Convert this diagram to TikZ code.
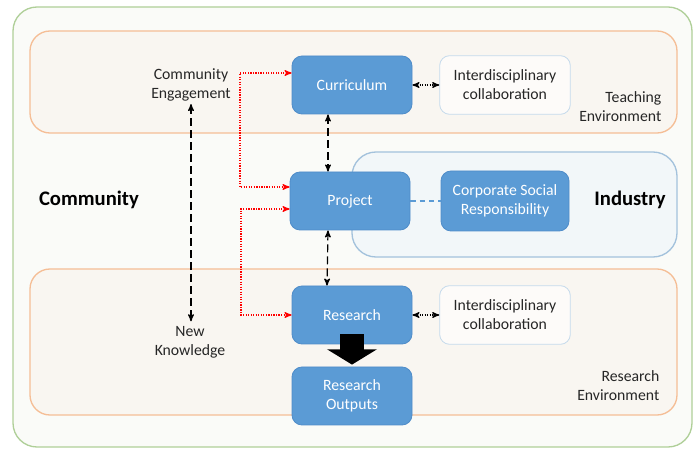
\documentclass[tikz,border=0pt]{standalone}
\usepackage{fontspec}
\setmainfont{Carlito}
\usepackage{tikz}
\usetikzlibrary{arrows,arrows.meta}

\definecolor{boxblue}{HTML}{5B9BD5}
\definecolor{boxedge}{HTML}{4F8CC9}
\definecolor{paleblue}{HTML}{C5DAEC}
\definecolor{indfill}{HTML}{F2F7F9}
\definecolor{indedge}{HTML}{A3C2DC}
\definecolor{envfill}{HTML}{F9F6F1}
\definecolor{envedge}{HTML}{F5BE96}
\definecolor{outfill}{HTML}{FAFBF8}
\definecolor{outedge}{HTML}{AFCF98}
\definecolor{txtgray}{HTML}{262626}

\begin{document}
\begin{tikzpicture}[x=0.75pt,y=-0.75pt,>=stealth',auto,
  font=\fontsize{11.8}{14.3}\selectfont]
  \tikzstyle{blk}=[draw=boxedge,fill=boxblue,rounded corners=7.5pt,
    minimum width=90pt,minimum height=43.5pt,text=white,align=center,
    line width=0.6pt]
  \tikzstyle{ibox}=[draw=paleblue,fill=white!60!envfill,rounded corners=7.5pt,
    minimum width=98pt,minimum height=44pt,text=txtgray,align=center,
    line width=0.6pt]
  \tikzstyle{lbl}=[text=txtgray,align=center]
  \tikzstyle{big}=[text=black,font=\fontsize{15.5}{18}\selectfont\bfseries]
  \tikzstyle{link}=[<->,black,line width=0.9pt,dash pattern=on 6pt off 3pt]
  \tikzstyle{dots}=[<->,black,line width=0.9pt,densely dotted]
  \tikzstyle{redline}=[<->,red,line width=0.9pt,densely dotted]

  \useasboundingbox (0,0) rectangle (694,449);

  % areas
  \draw[outedge,fill=outfill,line width=1pt,rounded corners=18pt]
    (13,7) rectangle (692,447);
  \draw[envedge,fill=envfill,line width=1pt,rounded corners=15pt]
    (30,31) rectangle (677,133);
  \draw[envedge,fill=envfill,line width=1pt,rounded corners=15pt]
    (30,269) rectangle (677,415);
  \draw[indedge,fill=indfill,line width=1pt,rounded corners=18pt]
    (352,152) rectangle (677,257);

  % boxes
  \node[blk] (cur) at (352,85) {Curriculum};
  \node[blk] (proj) at (350,201) {Project};
  \node[blk] (res) at (352,315) {Research};
  \node[blk] (outp) at (352,396) {Research\\Outputs};
  \node[blk,minimum width=96pt,minimum height=45pt] (csr) at (505,201)
    {Corporate Social\\Responsibility};
  \node[ibox] (ic1) at (505,85) {Interdisciplinary\\collaboration};
  \node[ibox] (ic2) at (505,315) {Interdisciplinary\\collaboration};

  % labels
  \node[lbl] (ce) at (191,85) {Community\\Engagement};
  \node[lbl] (nk) at (190,342) {New\\Knowledge};
  \node[big] (com) at (89,200) {Community};
  \node[big] (ind) at (630,200) {Industry};
  \node[lbl,align=right,anchor=east] (te) at (666,107) {Teaching\\Environment};
  \node[lbl,align=right,anchor=east] (re) at (664,386) {Research\\Environment};

  % corner points of the red lines
  \coordinate (r1) at (240,73);
  \coordinate (r2) at (240,187);
  \coordinate (r3) at (241,209);
  \coordinate (r4) at (241,315);

  \draw[link] (ce.south) ++(0,-2) coordinate (ce1) -- (ce1 |- nk.north);
  \draw[link] ([xshift=-18pt]cur.south) -- ([xshift=-16.5pt]proj.north);
  \draw[link] ([xshift=-16.5pt]proj.south) -- ([xshift=-18.75pt]res.north);
  \path
  (cur) edge[dots] (ic1)
  (res) edge[dots] (ic2)
  ;
  \draw[boxblue,line width=0.9pt,dash pattern=on 4pt off 3pt] (proj) -- (csr);

  \draw[redline] (r1 -| cur.west) -- (r1) -- (r2) -- (r2 -| proj.west);
  \draw[redline] (r3 -| proj.west) -- (r3) -- (r4) -- (r4 -| res.west);

  % big arrow
  \draw[line width=18pt,-{Triangle[length=11.5pt,width=37pt]}]
    ([yshift=7.5pt]res.south) -- ([yshift=1.5pt]outp.north);
\end{tikzpicture}
\end{document}
